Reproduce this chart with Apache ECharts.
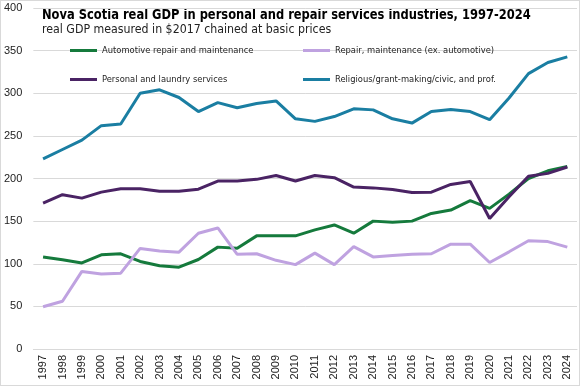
<!DOCTYPE html>
<html><head><meta charset="utf-8">
<script src="https://cdn.jsdelivr.net/npm/echarts@6/dist/echarts.min.js"></script>
<style>html,body{margin:0;padding:0;background:#fff}#c{width:580px;height:386px;box-sizing:border-box;border:1px solid #d9d9d9}</style>
</head><body><div id="c"></div>
<script>
const years = ['1997','1998','1999','2000','2001','2002','2003','2004','2005','2006','2007','2008','2009','2010','2011','2012','2013','2014','2015','2016','2017','2018','2019','2020','2021','2022','2023','2024'];
const automotive = [108,104.7,101,110.5,111.7,102.7,97.7,96,105,119.5,118.3,132.7,132.7,132.7,139.7,145.5,135.8,150,148.7,150,159,163,174,165,181.7,200,209,214];
const repair = [49.5,56,91,88,89,118,115,113.6,135.8,142,111,111.7,104,99,112.5,99,120,108,109.7,111,111.7,123,123,101.5,114,127,126,119.5];
const personal = [171,181,177,184,188,188,185,185,187.5,197,197,199,203.5,197,203.5,201,190,189,187,183.5,184,193,196.5,153,178.5,202.7,206,213.5];
const religious = [223,234,245,262,264,300,304,295,278.5,289,283,288,291,270,267,272.7,281.7,280.5,270,265,278.5,281,278.5,269,294.5,323,336,342.7];
const names = ['Automotive repair and maintenance','Repair, maintenance (ex. automotive)','Personal and laundry services','Religious/grant-making/civic, and prof.'];
const colors = ['#157a3c','#bfa2e0','#4a2364','#1a7ea2'];
const yTicks = {min:0,max:400,interval:50};
const titleText = 'Nova Scotia real GDP in personal and repair services industries, 1997-2024';
const subtitleText = 'real GDP measured in $2017 chained at basic prices';

const chart = echarts.init(document.getElementById('c'));
const dataArr = [automotive, repair, personal, religious];
const legendPos = [[69,45],[302,45],[69,74],[302,74]];
const F1 = '"DejaVu Sans Condensed", Roboto, sans-serif';
chart.setOption({
  animation:false,
  graphic:[
    {type:'text',x:41,y:7,scaleX:0.87,style:{text:titleText,font:'bold 14.7px '+F1,fill:'#000',textVerticalAlign:'top'}},
    {type:'text',x:41,y:22,scaleX:0.98,style:{text:subtitleText,font:'12.5px '+F1,fill:'#222',textVerticalAlign:'top'}}
  ],
  legend: names.map((n,i)=>({data:[n],left:legendPos[i][0],top:legendPos[i][1],padding:0,icon:'rect',itemWidth:27,itemHeight:3,itemGap:2,textStyle:{fontFamily:F1,fontSize:9.3,color:'#222'}})),
  grid:{left:32,right:2,top:7,bottom:36},
  xAxis:{type:'category',data:years,boundaryGap:true,axisTick:{show:false},axisLine:{lineStyle:{color:'#d9d9d9'}},axisLabel:{rotate:90,fontFamily:'Liberation Sans',fontSize:11,color:'#222',margin:6}},
  yAxis:{type:'value',min:yTicks.min,max:yTicks.max,interval:yTicks.interval,axisLabel:{fontFamily:'Liberation Sans',fontSize:11,color:'#222',margin:11},splitLine:{lineStyle:{color:'#d9d9d9'}},axisLine:{show:false},axisTick:{show:false}},
  series: names.map((n,i)=>({name:n,type:'line',data:dataArr[i],symbol:'none',lineStyle:{width:3,color:colors[i]},itemStyle:{color:colors[i]}}))
});
</script></body></html>
